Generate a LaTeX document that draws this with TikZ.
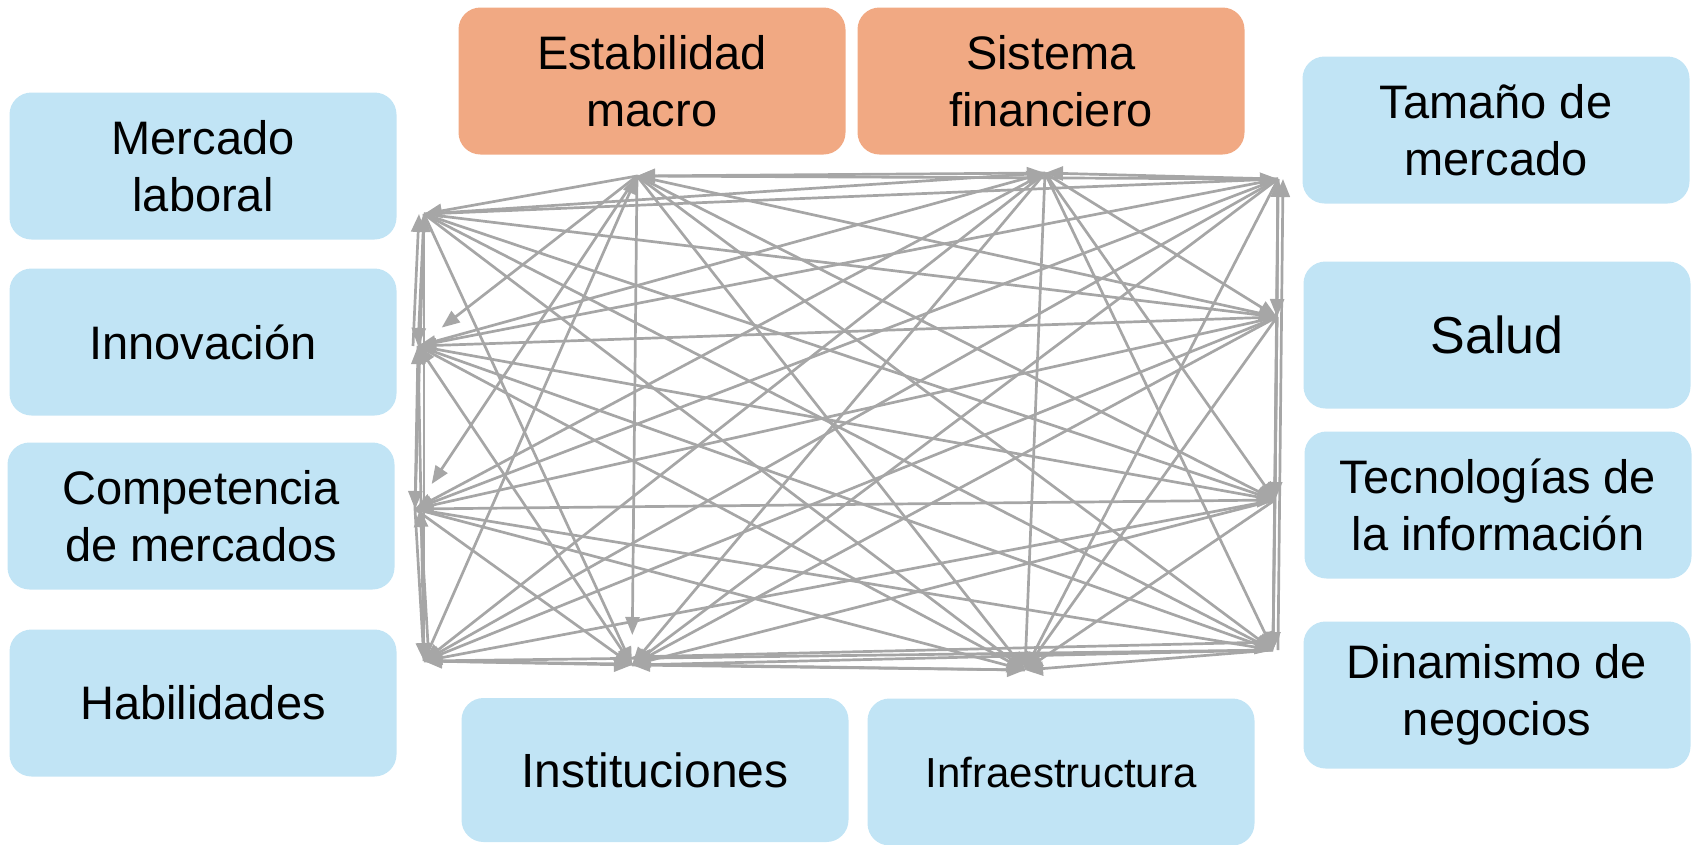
\documentclass[tikz,border=0pt]{standalone}
\usepackage{fontspec}
\setmainfont{Liberation Sans}
\usepackage{tikz}
\usetikzlibrary{arrows.meta}
\definecolor{boxblue}{RGB}{193,228,245}
\definecolor{boxorange}{RGB}{241,169,131}
\definecolor{linkgray}{RGB}{166,166,166}
\tikzstyle{factor} = [rectangle, rounded corners=22pt, fill=boxblue, minimum width=387pt,
minimum height=147pt, align=center, inner sep=0pt, font=\fontsize{47}{57}\selectfont]
\tikzstyle{core} = [factor, fill=boxorange]
\tikzstyle{link} = [draw=linkgray, line width=2.7pt, -{Triangle[length=18pt,width=14pt]}]

\begin{document}
\begin{tikzpicture}[x=1pt, y=-1pt]
\useasboundingbox (0,0) rectangle (1692,844);

\node [core] (estab) at (652,81) {Estabilidad\\macro};
\node [core] (sist) at (1051,81) {Sistema\\financiero};
\node [factor] (laboral) at (203,166) {Mercado\\laboral};
\node [factor] (innov) at (203,342) {Innovación};
\node [factor] (compet) at (201,516) {Competencia\\de mercados};
\node [factor] (habil) at (203,703) {Habilidades};
\node [factor, minimum height=144pt, font=\fontsize{48}{60}\selectfont] (instit) at (655,770) {Instituciones};
\node [factor, font=\fontsize{42}{50}\selectfont] (infra) at (1061,772) {Infraestructura};
\node [factor] (tamano) at (1496,130) {Tamaño de\\mercado};
\node [factor, font=\fontsize{52}{62}\selectfont] (salud) at (1497,335) {Salud};
\node [factor] (tecno) at (1498,505) {Tecnologías de\\la información};
\node [factor] (dinam) at (1497,695) {Dinamismo de\\negocios};

% hubs where the links meet
\coordinate (p-lab) at (424,214);
\coordinate (p-inn) at (418,346);
\coordinate (p-com) at (415,509);
\coordinate (p-hab) at (424,661);
\coordinate (p-est) at (637,176);
\coordinate (p-sis) at (1045,173);
\coordinate (p-ins) at (632,665);
\coordinate (p-inf) at (1025,670);
\coordinate (p-tam) at (1278,179);
\coordinate (p-sal) at (1277,317);
\coordinate (p-tec) at (1275,500);
\coordinate (p-din) at (1273,650);

\foreach \s/\t in {lab/inn, com/lab, lab/hab, est/lab, lab/sis, lab/ins, lab/inf, lab/tam,
  lab/sal, lab/tec, lab/din,
  inn/com, hab/inn, inn/sis, ins/inn, inn/inf, tam/inn, sal/inn, inn/tec, inn/din,
  com/hab, sis/com, com/ins, com/inf, tam/com, sal/com, com/tec, com/din,
  hab/est, sis/hab, hab/ins, inf/hab, tam/hab, sal/hab, tec/hab, din/hab,
  sis/est, est/inf, tam/est, est/sal, est/tec, est/din,
  sis/ins, sis/inf, tam/sis, sis/sal, sis/tec, sis/din,
  ins/inf, tam/ins, sal/ins, tec/ins, din/ins,
  tam/inf, sal/inf, tec/inf, din/inf,
  tam/sal, tec/tam, tam/din,
  sal/tec, sal/din,
  tec/din}
  \path [link] (p-\s) -- (p-\t);

% links that stop short of their hub
\foreach \t in {inn, com, ins}
  \path [link, shorten >=30pt] (p-est) -- (p-\t);

% second lines along the side columns
\path [link] ([xshift=-5pt]p-inn) -- ([xshift=-5pt]p-lab);
\path [link] ([xshift=5pt]p-hab) -- ([xshift=5pt]p-com);
\path [link] ([xshift=5pt]p-din) -- ([xshift=5pt]p-tam);
\path [link] ([yshift=8pt]p-din) -- ([yshift=8pt]p-ins);
\end{tikzpicture}
\end{document}
